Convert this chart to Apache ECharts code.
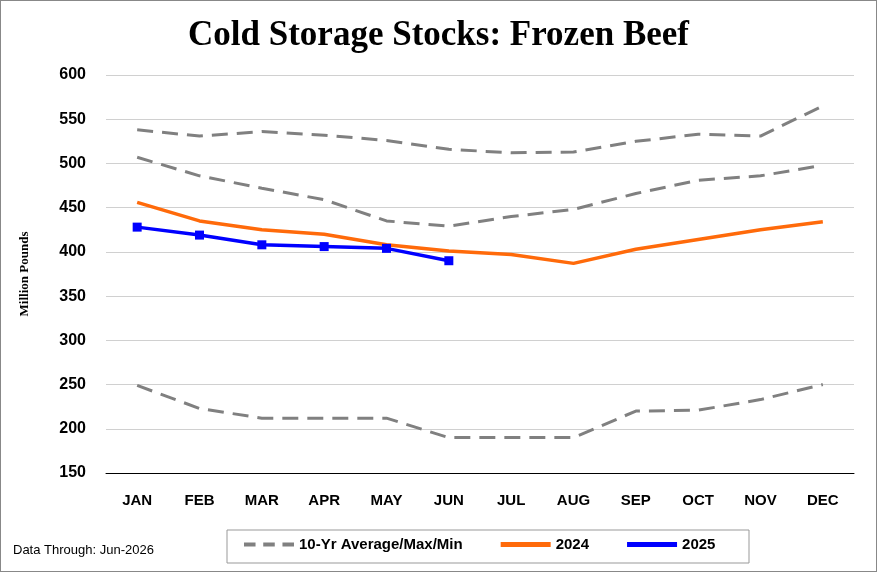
<!DOCTYPE html><html><head><meta charset="utf-8"><script src="https://cdn.jsdelivr.net/npm/echarts@6/dist/echarts.min.js"></script>
<style>html,body{margin:0;padding:0;background:#fff}#c{width:877px;height:572px;box-sizing:border-box;border:1px solid #888}</style></head><body><div id="c"></div><script>
const months=['JAN','FEB','MAR','APR','MAY','JUN','JUL','AUG','SEP','OCT','NOV','DEC'];
const maxV=[538,531,536,532,526,516,512,513,525,533,531,565];
const avgV=[507,486,472,459,435,429,440,448,466,481,486,498];
const minV=[249,223,212,212,212,190,190,190,220,221,233,250];
const y2024=[456,435,425,420,408,401,397,387,403,414,425,434];
const y2025=[428,419,408,406,404,390];
const ch=echarts.init(document.getElementById('c'));
const dash={color:'#808080',width:3,type:[16,9]};
ch.setOption({animation:false,
title:{text:'Cold Storage Stocks: Frozen Beef',left:'center',top:12,textStyle:{fontFamily:'Liberation Serif',fontWeight:'bold',fontSize:35,color:'#000'}},
graphic:[{type:'text',left:12,top:543,style:{text:'Data Through: Jun-2026',font:'13px Liberation Sans',fill:'#000'}},
{type:'rect',shape:{x:226,y:529,width:522,height:33},style:{fill:'none',stroke:'#999',lineWidth:1}}],
legend:{bottom:14,left:238,itemGap:38,itemWidth:50,textStyle:{fontFamily:'Liberation Sans',fontWeight:'bold',fontSize:15,color:'#000'},
data:[{name:'10-Yr Average/Max/Min',icon:'path://M0,0h3v1h-3zM5,0h3v1h-3zM10,0h3v1h-3z'},{name:'2024',icon:'path://M0,0h1v0.1h-1z'},{name:'2025',icon:'path://M0,0h1v0.1h-1z'}]},
grid:{left:105,right:22,top:74,bottom:98},
xAxis:{type:'category',data:months,boundaryGap:true,axisTick:{show:false},axisLine:{lineStyle:{color:'#000',width:1}},axisLabel:{fontFamily:'Liberation Sans',fontWeight:'bold',fontSize:15,color:'#000',margin:20}},
yAxis:{type:'value',min:150,max:600,interval:50,name:'Million Pounds',nameLocation:'middle',nameGap:75,nameTextStyle:{fontFamily:'Liberation Serif',fontWeight:'bold',fontSize:13,color:'#000'},axisLine:{show:false},axisTick:{show:false},splitLine:{lineStyle:{color:'#d0d0d0'}},axisLabel:{fontFamily:'Liberation Sans',fontWeight:'bold',fontSize:16,color:'#000',margin:20}},
series:[
{name:'10-Yr Average/Max/Min',type:'line',data:maxV,showSymbol:false,lineStyle:dash,itemStyle:{color:'#808080'}},
{name:'10-Yr Average/Max/Min',type:'line',data:avgV,showSymbol:false,lineStyle:dash,itemStyle:{color:'#808080'}},
{name:'10-Yr Average/Max/Min',type:'line',data:minV,showSymbol:false,lineStyle:dash,itemStyle:{color:'#808080'}},
{name:'2024',type:'line',data:y2024,showSymbol:false,lineStyle:{color:'#ff6a0a',width:3.5},itemStyle:{color:'#ff6a0a'}},
{name:'2025',type:'line',data:y2025,symbol:'rect',symbolSize:9,lineStyle:{color:'#0000ff',width:3.5},itemStyle:{color:'#0000ff'}}
]});
</script></body></html>
